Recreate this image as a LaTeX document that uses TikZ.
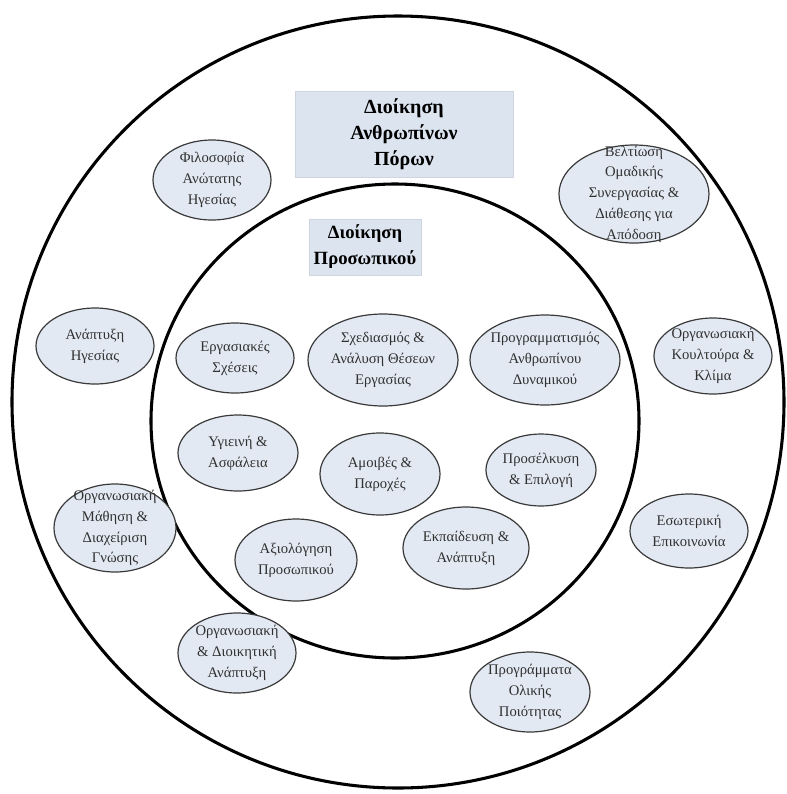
\documentclass[tikz,border=0pt]{standalone}
\usepackage{fontspec}
\setmainfont{Liberation Serif}
\usetikzlibrary{shapes.geometric}
\definecolor{elfill}{HTML}{E3E9F3}
\definecolor{boxfill}{HTML}{DCE4EF}
\definecolor{elline}{HTML}{3A3A3A}
\definecolor{eltext}{HTML}{303030}
\tikzset{
  ring/.style={draw=black, line width=2.3pt},
  el/.style={ellipse, draw=elline, line width=0.9pt, fill=elfill, inner sep=0pt},
  sz/.style 2 args={minimum width=#1*0.75pt, minimum height=#2*0.75pt},
  txt/.style={align=center, text=eltext, font=\fontsize{11}{15.6}\selectfont, inner sep=0pt},
  titlebox/.style={rectangle, fill=boxfill, draw=boxfill!85!gray, line width=0.3pt, align=center, inner sep=0pt, font=\fontsize{15}{19.5}\selectfont\bfseries}
}
\begin{document}
\begin{tikzpicture}[x=0.75pt, y=-0.75pt]
\useasboundingbox (0,0) rectangle (787,794);
\fill[white] (0,0) rectangle (787,794);
% circles
\node[ring, circle, minimum size=772*0.75pt, inner sep=0pt] (outer) at (398,402) {};
\node[ring, ellipse, sz={488}{474}, inner sep=0pt] (inner) at (395,421) {};
% title boxes
\node[titlebox, sz={218}{86}] (hrm) at (404,134) {Διοίκηση\\Ανθρωπίνων\\Πόρων};
\node[titlebox, sz={112}{56}, font=\fontsize{14}{19.5}\selectfont\bfseries] (pm) at (365,247) {Διοίκηση\\Προσωπικού};
% outer ring ellipses
\node[el, sz={118}{80}, label={[txt]center:Φιλοσοφία\\Ανώτατης\\Ηγεσίας}] (phil) at (212,180) {};
\node[el, sz={150}{98}, label={[txt]center:Βελτίωση\\Ομαδικής\\Συνεργασίας \&\\Διάθεσης για\\Απόδοση}] (team) at (634,194) {};
\node[el, sz={118}{76}, label={[txt]center:Ανάπτυξη\\Ηγεσίας}] (lead) at (95,346) {};
\node[el, sz={118}{76}, label={[txt]center:Οργανωσιακή\\Κουλτούρα \&\\Κλίμα}] (cult) at (713,356) {};
\node[el, sz={122}{88}, label={[txt]center:Οργανωσιακή\\Μάθηση \&\\Διαχείριση\\Γνώσης}] (learn) at (115,528) {};
\node[el, sz={118}{74}, label={[txt]center:Εσωτερική\\Επικοινωνία}] (comm) at (689,531) {};
\node[el, sz={118}{80}, label={[txt]center:Οργανωσιακή\\\& Διοικητική\\Ανάπτυξη}] (orgdev) at (237,653) {};
\node[el, sz={120}{80}, label={[txt]center:Προγράμματα\\Ολικής\\Ποιότητας}] (tqm) at (530,692) {};
% inner circle ellipses
\node[el, sz={118}{70}, label={[txt]center:Εργασιακές\\Σχέσεις}] (rel) at (235,358) {};
\node[el, sz={150}{92}, label={[txt]center:Σχεδιασμός \&\\Ανάλυση Θέσεων\\Εργασίας}] (job) at (383,360) {};
\node[el, sz={150}{90}, label={[txt]center:Προγραμματισμός\\Ανθρωπίνου\\Δυναμικού}] (plan) at (545,360) {};
\node[el, sz={120}{76}, label={[txt]center:Υγιεινή \&\\Ασφάλεια}] (safe) at (238,453) {};
\node[el, sz={120}{82}, label={[txt]center:Αμοιβές \&\\Παροχές}] (pay) at (380,474) {};
\node[el, sz={110}{72}, label={[txt]center:Προσέλκυση\\\& Επιλογή}] (recr) at (541,470) {};
\node[el, sz={122}{82}, label={[txt]center:Αξιολόγηση\\Προσωπικού}] (eval) at (296,560) {};
\node[el, sz={126}{82}, label={[txt]center:Εκπαίδευση \&\\Ανάπτυξη}] (train) at (466,548) {};
\end{tikzpicture}
\end{document}
